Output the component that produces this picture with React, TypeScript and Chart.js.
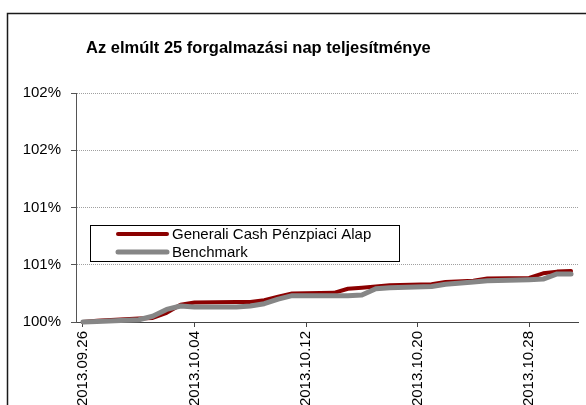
import React, { useEffect, useRef } from "react";
import { Chart, registerables } from "chart.js";

Chart.register(...registerables);

const TITLE = "Az elmúlt 25 forgalmazási nap teljesítménye";
const SERIES_NAMES = ["Generali Cash Pénzpiaci Alap", "Benchmark"];

const dates = [
  "2013.09.26", "2013.09.27", "2013.09.30", "2013.10.01", "2013.10.02",
  "2013.10.03", "2013.10.04", "2013.10.07", "2013.10.08", "2013.10.09",
  "2013.10.10", "2013.10.11", "2013.10.14", "2013.10.15", "2013.10.16",
  "2013.10.17", "2013.10.18", "2013.10.21", "2013.10.22", "2013.10.24",
  "2013.10.25", "2013.10.28", "2013.10.29", "2013.10.30", "2013.10.31",
];

const fundValues = [
  100.0, 100.01, 100.03, 100.035, 100.08,
  100.15, 100.17, 100.175, 100.175, 100.19,
  100.22, 100.25, 100.255, 100.29, 100.3,
  100.31, 100.32, 100.33, 100.35, 100.36,
  100.38, 100.385, 100.425, 100.44, 100.445,
];

const benchmarkValues = [
  100.0, 100.005, 100.02, 100.05, 100.11,
  100.14, 100.13, 100.13, 100.14, 100.16,
  100.2, 100.23, 100.23, 100.23, 100.235,
  100.29, 100.3, 100.31, 100.33, 100.35,
  100.36, 100.37, 100.375, 100.42, 100.42,
];

const xTickLabels = ["2013.09.26", "2013.10.04", "2013.10.12", "2013.10.20", "2013.10.28"];
const yTickValues = [100, 100.5, 101, 101.5, 102];

const FONT = '"Liberation Sans", Arial, Helvetica, sans-serif';
const RED = "#8b0000";
const GRAY = "#868686";

function dayOf(s: string): number {
  const [y, m, d] = s.split(".").map(Number);
  const [y0, m0, d0] = dates[0].split(".").map(Number);
  return Math.round((Date.UTC(y, m - 1, d) - Date.UTC(y0, m0 - 1, d0)) / 86400000);
}

const decorPlugin = {
  id: "decor",
  beforeDraw(chart: any) {
    const ctx = chart.ctx;
    ctx.save();
    ctx.fillStyle = "#ffffff";
    ctx.fillRect(0, 0, chart.width, chart.height);
    ctx.strokeStyle = "#1a1a1a";
    ctx.lineWidth = 1.5;
    ctx.strokeRect(7.5, 13.5, 700, 600);
    ctx.fillStyle = "#000";
    ctx.font = `bold 16.5px ${FONT}`;
    ctx.textAlign = "left";
    ctx.textBaseline = "alphabetic";
    ctx.fillText(TITLE, 86, 53);
    ctx.restore();
  },
  afterDatasetsDraw(chart: any) {
    const ctx = chart.ctx;
    ctx.save();
    ctx.fillStyle = "#fff";
    ctx.fillRect(90.5, 225.5, 309, 36);
    ctx.strokeStyle = "#000";
    ctx.lineWidth = 1;
    ctx.strokeRect(90.5, 225.5, 309, 36);
    const rows = [
      { color: RED, w: 4, y: 234 },
      { color: GRAY, w: 5, y: 252 },
    ];
    rows.forEach((r, i) => {
      ctx.strokeStyle = r.color;
      ctx.lineWidth = r.w;
      ctx.lineCap = "round";
      ctx.beginPath();
      ctx.moveTo(118, r.y);
      ctx.lineTo(167, r.y);
      ctx.stroke();
      ctx.fillStyle = "#000";
      ctx.font = `15px ${FONT}`;
      ctx.textBaseline = "middle";
      ctx.textAlign = "left";
      ctx.fillText(SERIES_NAMES[i], 172, r.y + 1);
    });
    ctx.restore();
  },
};

export default function App() {
  const ref = useRef<HTMLCanvasElement>(null);
  useEffect(() => {
    if (!ref.current) return;
    const tickMap: Record<number, string> = {};
    xTickLabels.forEach((l) => (tickMap[dayOf(l)] = l));
    const chart = new Chart(ref.current, {
      type: "line",
      data: {
        datasets: [
          {
            label: SERIES_NAMES[0],
            data: dates.map((d, i) => ({ x: dayOf(d), y: fundValues[i] })),
            borderColor: RED,
            backgroundColor: RED,
            borderWidth: 4,
            pointRadius: 0,
            tension: 0,
            borderCapStyle: "round",
            borderJoinStyle: "round",
            clip: 8,
            order: 1,
          } as any,
          {
            label: SERIES_NAMES[1],
            data: dates.map((d, i) => ({ x: dayOf(d), y: benchmarkValues[i] })),
            borderColor: GRAY,
            backgroundColor: GRAY,
            borderWidth: 5,
            pointRadius: 0,
            tension: 0,
            borderCapStyle: "round",
            borderJoinStyle: "round",
            clip: 8,
            order: 0,
          } as any,
        ],
      },
      options: {
        responsive: false,
        animation: false,
        devicePixelRatio: 1,
        layout: { padding: { top: 93, left: 0, right: 8, bottom: 0 } },
        plugins: {
          legend: { display: false },
          title: { display: false },
          tooltip: { enabled: false },
        },
        scales: {
          x: {
            type: "linear",
            min: -0.5,
            max: 35.5,
            afterBuildTicks: (scale: any) => {
              scale.ticks = xTickLabels.map((l) => ({ value: dayOf(l) }));
            },
            afterFit: (scale: any) => {
              scale.height = 440 - 322;
            },
            ticks: {
              autoSkip: false,
              maxRotation: 90,
              minRotation: 90,
              padding: 4,
              color: "#000",
              font: { family: FONT, size: 15 },
              callback: (v: any) => tickMap[v as number] ?? "",
            },
            grid: {
              drawOnChartArea: false,
              drawTicks: true,
              tickLength: 5,
              tickColor: "#444",
              color: "#444",
            },
            border: { color: "#444", width: 1 },
          },
          y: {
            type: "linear",
            min: 100,
            max: 102,
            afterBuildTicks: (scale: any) => {
              scale.ticks = yTickValues.map((v) => ({ value: v }));
            },
            afterFit: (scale: any) => {
              scale.width = 76;
            },
            ticks: {
              padding: 10,
              color: "#000",
              font: { family: FONT, size: 15 },
              callback: (v: any) => Math.round(Number(v)) + "%",
            },
            grid: {
              drawOnChartArea: true,
              drawTicks: true,
              tickLength: 5,
              tickColor: "#555",
              color: (c: any) => (c.tick && c.tick.value === 100 ? "rgba(0,0,0,0)" : "#a0a0a0"),
            },
            border: { color: "#555", width: 1, dash: [1, 1] },
          },
        },
      },
      plugins: [decorPlugin],
    });
    return () => chart.destroy();
  }, []);
  return (
    <div style={{ position: "fixed", left: 0, top: 0, width: 586, height: 405, overflow: "hidden", background: "#fff" }}>
      <canvas ref={ref} width={586} height={440} style={{ display: "block", width: 586, height: 440 }} />
    </div>
  );
}
